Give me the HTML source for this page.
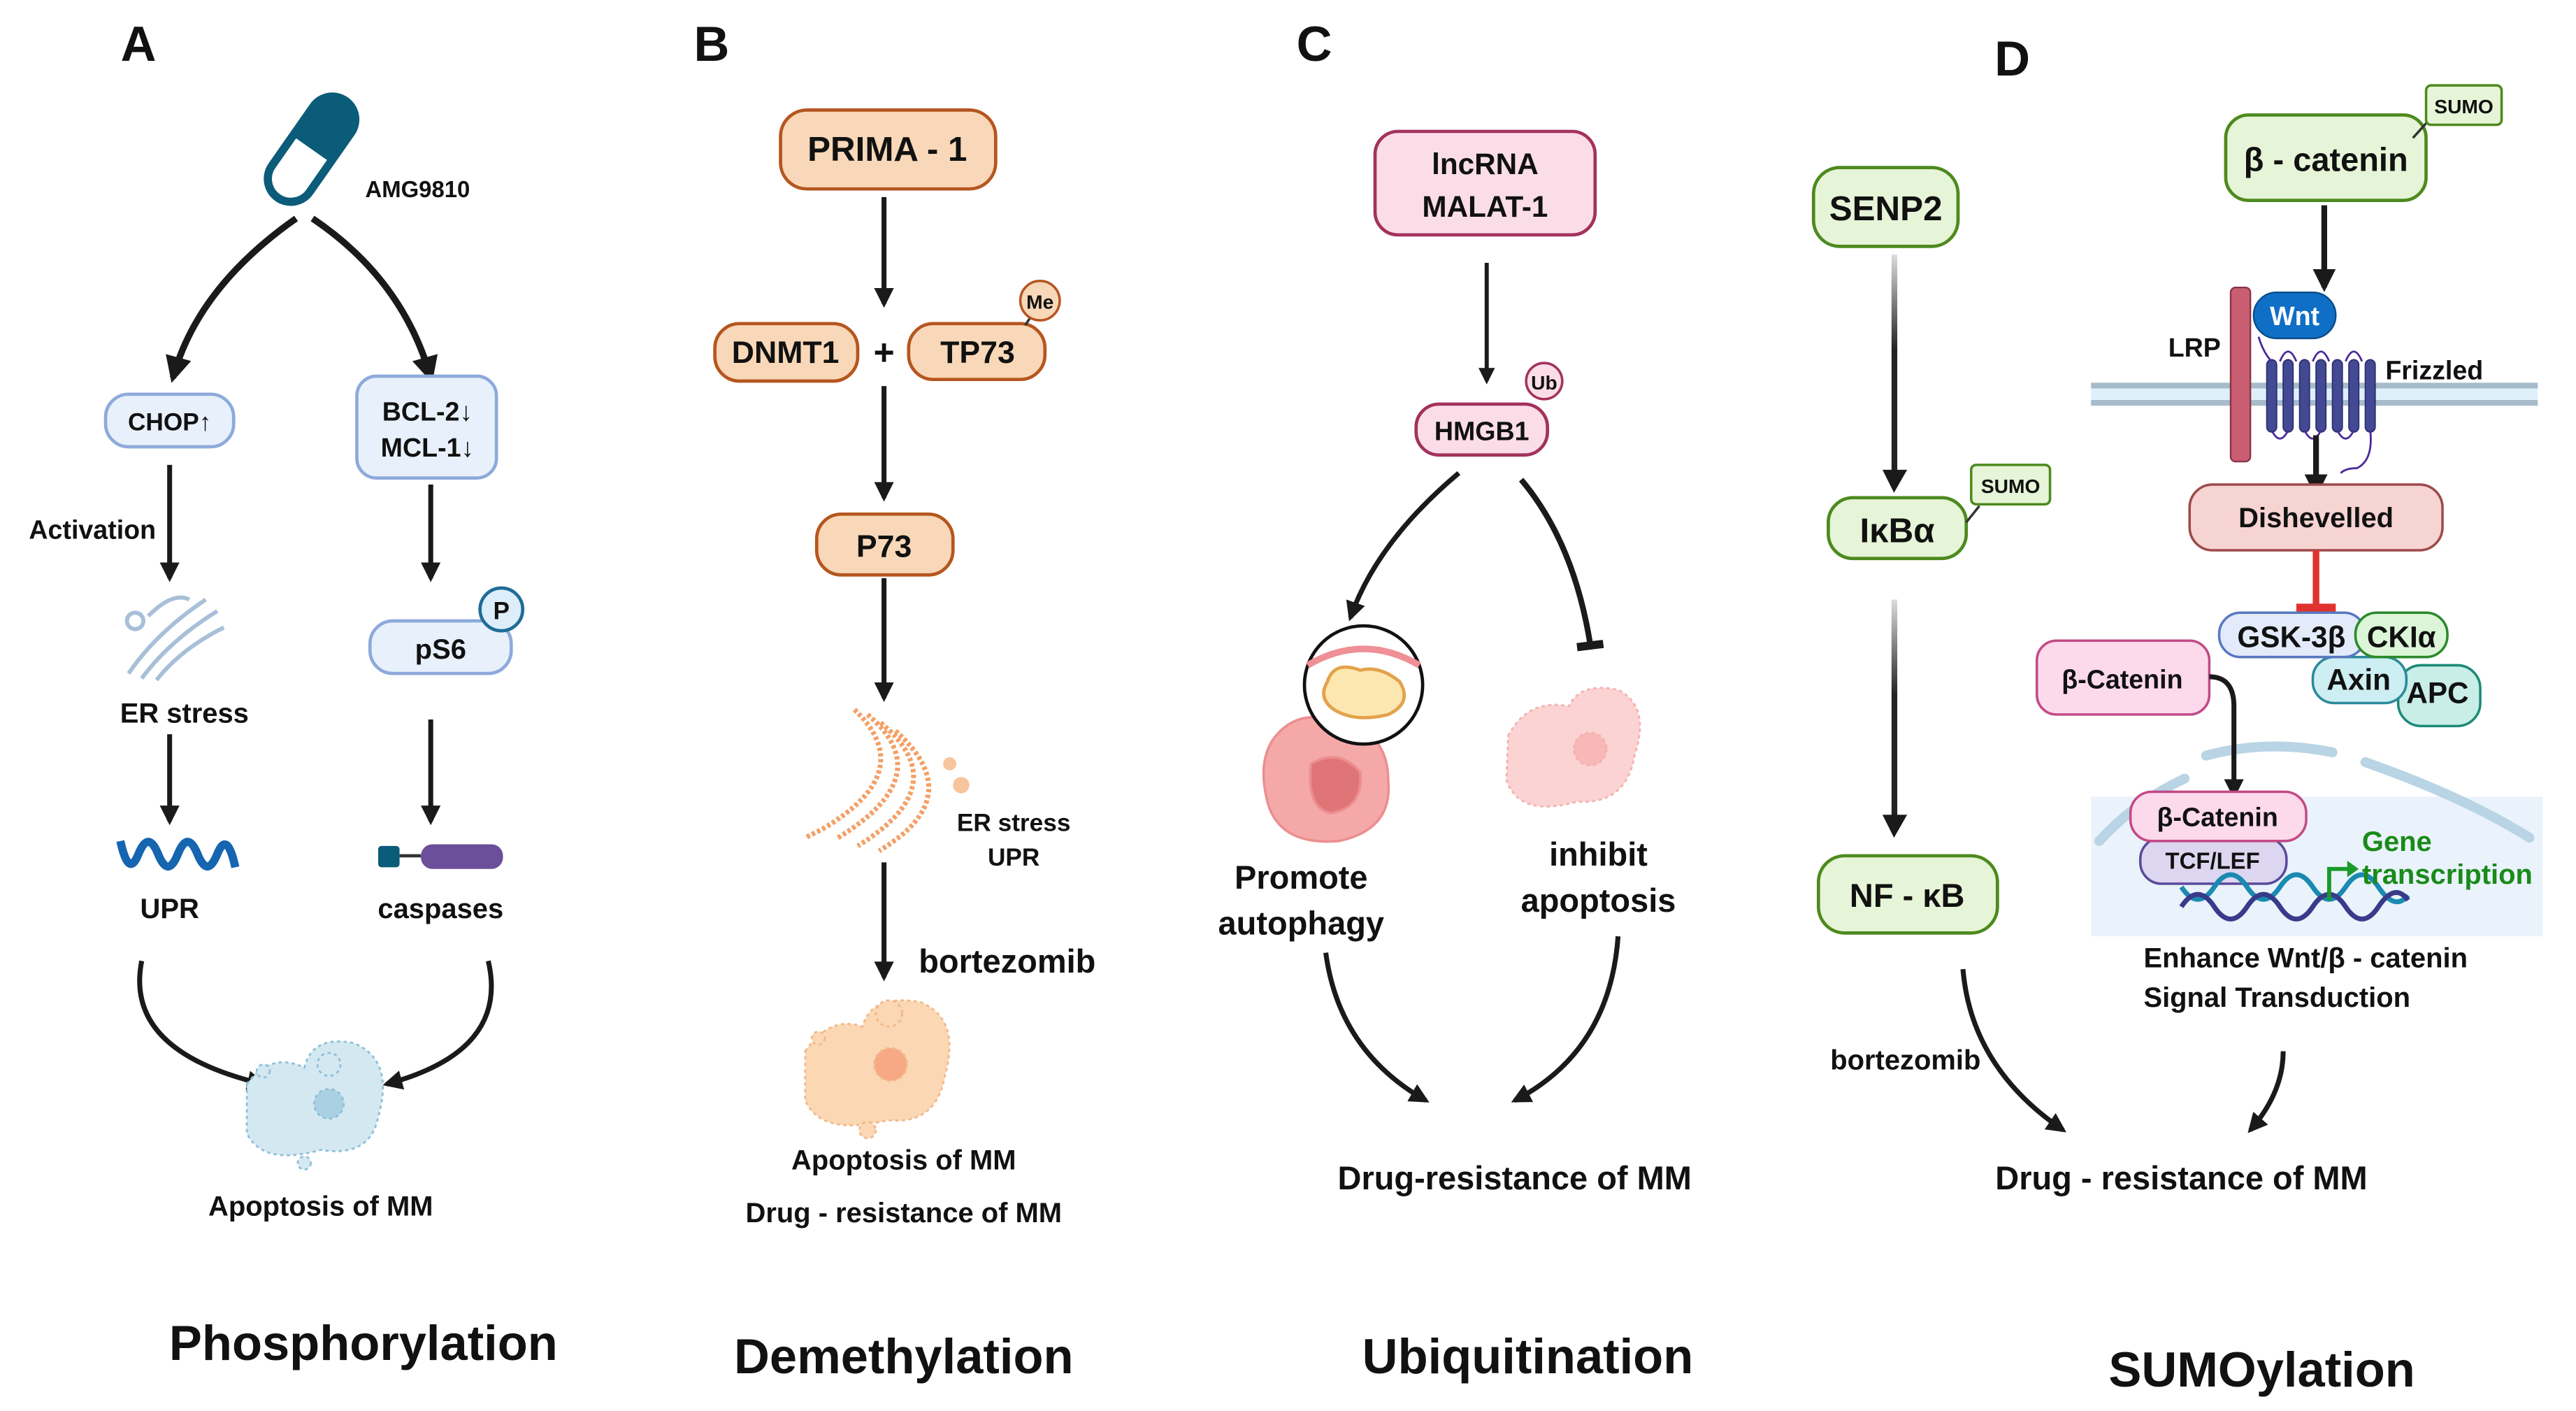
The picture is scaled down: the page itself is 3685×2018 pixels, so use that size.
<!DOCTYPE html>
<html><head><meta charset="utf-8"><style>
html,body{margin:0;padding:0;background:#fff;}
svg{display:block;}
text{font-family:"Liberation Sans",Arial,sans-serif;font-weight:bold;fill:#111;}
</style></head><body>
<svg width="3685" height="2018" viewBox="0 0 1568 859" xmlns="http://www.w3.org/2000/svg">
<defs>
<marker id="ah" viewBox="0 0 10 10" refX="8" refY="5" markerWidth="4" markerHeight="4" orient="auto"><path d="M0,0 L10,5 L0,10 z" fill="#1a1a1a"/></marker>
<linearGradient id="gd1" gradientUnits="userSpaceOnUse" x1="0" y1="155" x2="0" y2="300"><stop offset="0" stop-color="#ddd"/><stop offset="0.4" stop-color="#222"/></linearGradient>
<linearGradient id="gd2" gradientUnits="userSpaceOnUse" x1="0" y1="365" x2="0" y2="510"><stop offset="0" stop-color="#ddd"/><stop offset="0.4" stop-color="#222"/></linearGradient>
</defs>
<g text-anchor="middle">
<text x="84" y="37" font-size="30">A</text>
<text x="433" y="37" font-size="30">B</text>
<text x="800" y="37" font-size="30">C</text>
<text x="1225" y="46" font-size="30">D</text>

<!-- ===== A ===== -->
<g transform="rotate(35 190 90)">
<rect x="176" y="55" width="28" height="72" rx="14" fill="#fff" stroke="#0b5c78" stroke-width="5"/>
<path d="M176,91 L176,69 A14,14 0 0 1 204,69 L204,91 z" fill="#0b5c78"/>
</g>
<text x="254" y="120" font-size="14">AMG9810</text>
<path d="M180,133 Q120,175 105,230" fill="none" stroke="#1a1a1a" stroke-width="4" marker-end="url(#ah)"/>
<path d="M190,133 Q245,170 262,230" fill="none" stroke="#1a1a1a" stroke-width="4" marker-end="url(#ah)"/>
<rect x="64" y="240" width="78" height="32" rx="14" fill="#e8f1fb" stroke="#8eaadb" stroke-width="2"/>
<text x="103" y="262" font-size="15">CHOP↑</text>
<rect x="217" y="229" width="85" height="62" rx="12" fill="#e8f1fb" stroke="#8eaadb" stroke-width="2"/>
<text x="260" y="256" font-size="16">BCL-2↓</text>
<text x="260" y="278" font-size="16">MCL-1↓</text>
<line x1="103" y1="283" x2="103" y2="352" stroke="#1a1a1a" stroke-width="3" marker-end="url(#ah)"/>
<text x="56" y="328" font-size="16">Activation</text>
<g fill="none" stroke="#a8bfd8" stroke-width="2.5">
<path d="M78,410 Q95,385 125,365"/><path d="M86,413 Q103,390 132,372"/><path d="M95,414 Q110,395 136,382"/>
<circle cx="82" cy="378" r="5"/><path d="M90,375 Q105,360 115,365"/>
</g>
<text x="112" y="440" font-size="17">ER stress</text>
<line x1="103" y1="447" x2="103" y2="500" stroke="#1a1a1a" stroke-width="3" marker-end="url(#ah)"/>
<path d="M73,512 Q78,535 84,520 T96,520 T108,520 T120,520 T132,520 T143,528" fill="none" stroke="#1565b0" stroke-width="5"/>
<text x="103" y="559" font-size="17">UPR</text>
<line x1="262" y1="295" x2="262" y2="352" stroke="#1a1a1a" stroke-width="3" marker-end="url(#ah)"/>
<rect x="225" y="378" width="86" height="32" rx="14" fill="#e8f1fb" stroke="#8eaadb" stroke-width="2"/>
<text x="268" y="401" font-size="17">pS6</text>
<circle cx="305" cy="371" r="13" fill="#ddeefa" stroke="#1e6c98" stroke-width="2"/>
<text x="305" y="377" font-size="15">P</text>
<line x1="262" y1="438" x2="262" y2="500" stroke="#1a1a1a" stroke-width="3" marker-end="url(#ah)"/>
<rect x="230" y="515" width="13" height="13" rx="2" fill="#0b5c78"/>
<line x1="243" y1="521" x2="256" y2="521" stroke="#333" stroke-width="2"/>
<rect x="256" y="514" width="50" height="15" rx="7" fill="#6b4f9a"/>
<text x="268" y="559" font-size="17">caspases</text>
<path d="M86,585 Q75,640 160,660" fill="none" stroke="#1a1a1a" stroke-width="3" marker-end="url(#ah)"/>
<path d="M297,585 Q310,640 235,660" fill="none" stroke="#1a1a1a" stroke-width="3" marker-end="url(#ah)"/>
<g fill="#d4e8f2" stroke="#8fc0d8" stroke-width="1.2" stroke-dasharray="2,2">
<path d="M150,660 Q165,640 185,650 Q190,630 215,635 Q240,645 230,680 Q225,705 195,700 Q160,710 150,690 z"/>
<circle cx="200" cy="672" r="9" fill="#a9d0e3"/><circle cx="200" cy="648" r="7"/><circle cx="160" cy="652" r="4"/><circle cx="185" cy="708" r="4"/>
</g>
<text x="195" y="740" font-size="17">Apoptosis of MM</text>
<text x="221" y="828" font-size="30">Phosphorylation</text>

<!-- ===== B ===== -->
<rect x="475" y="67" width="131" height="48" rx="16" fill="#f8d8b8" stroke="#b5561f" stroke-width="2"/>
<text x="540" y="98" font-size="21">PRIMA - 1</text>
<line x1="538" y1="120" x2="538" y2="185" stroke="#1a1a1a" stroke-width="3" marker-end="url(#ah)"/>
<rect x="435" y="197" width="87" height="35" rx="15" fill="#f8d8b8" stroke="#b5561f" stroke-width="2"/>
<text x="478" y="221" font-size="19">DNMT1</text>
<text x="538" y="222" font-size="22" font-weight="normal">+</text>
<rect x="553" y="197" width="83" height="34" rx="15" fill="#f8d8b8" stroke="#b5561f" stroke-width="2"/>
<text x="595" y="221" font-size="19">TP73</text>
<line x1="624" y1="198" x2="628" y2="192" stroke="#333" stroke-width="1.5"/>
<circle cx="633" cy="183" r="12" fill="#f8d8b8" stroke="#b5561f" stroke-width="1.5"/>
<text x="633" y="188" font-size="12">Me</text>
<line x1="538" y1="235" x2="538" y2="303" stroke="#1a1a1a" stroke-width="3" marker-end="url(#ah)"/>
<rect x="497" y="313" width="83" height="37" rx="15" fill="#f8d8b8" stroke="#b5561f" stroke-width="2"/>
<text x="538" y="339" font-size="19">P73</text>
<line x1="538" y1="352" x2="538" y2="425" stroke="#1a1a1a" stroke-width="3" marker-end="url(#ah)"/>
<g fill="none" stroke="#f4a066" stroke-width="3" stroke-dasharray="2,1.5">
<path d="M520,432 Q560,470 500,505 L490,510"/><path d="M528,435 Q572,472 510,510"/><path d="M536,440 Q582,478 522,515"/><path d="M545,445 Q590,485 535,518"/>
</g>
<circle cx="578" cy="465" r="4" fill="#f8c49c"/><circle cx="585" cy="478" r="5" fill="#f8c49c"/>
<text x="617" y="506" font-size="15">ER stress</text>
<text x="617" y="527" font-size="15">UPR</text>
<line x1="538" y1="525" x2="538" y2="595" stroke="#1a1a1a" stroke-width="3" marker-end="url(#ah)"/>
<text x="613" y="592" font-size="20">bortezomib</text>
<g fill="#fbd7b4" stroke="#f1b98a" stroke-width="1.2" stroke-dasharray="2,2">
<path d="M490,640 Q505,618 525,625 Q530,605 560,610 Q585,620 575,655 Q570,685 540,682 Q500,692 490,670 z"/>
<circle cx="542" cy="648" r="10" fill="#f6a984"/><circle cx="541" cy="617" r="8"/><circle cx="498" cy="632" r="4"/><circle cx="528" cy="688" r="5"/>
</g>
<text x="550" y="712" font-size="17">Apoptosis of MM</text>
<text x="550" y="744" font-size="17">Drug - resistance of MM</text>
<text x="550" y="836" font-size="30">Demethylation</text>

<!-- ===== C ===== -->
<rect x="837" y="80" width="134" height="63" rx="14" fill="#fbdde8" stroke="#a2325c" stroke-width="2"/>
<text x="904" y="106" font-size="18">lncRNA</text>
<text x="904" y="132" font-size="18">MALAT-1</text>
<line x1="905" y1="160" x2="905" y2="232" stroke="#1a1a1a" stroke-width="2.5" marker-end="url(#ah)"/>
<rect x="862" y="246" width="80" height="31" rx="14" fill="#fbdde8" stroke="#a2325c" stroke-width="2"/>
<text x="902" y="268" font-size="16">HMGB1</text>
<circle cx="940" cy="232" r="11" fill="#fbdde8" stroke="#a2325c" stroke-width="1.5"/>
<text x="940" y="237" font-size="12">Ub</text>
<path d="M888,288 Q838,330 822,376" fill="none" stroke="#1a1a1a" stroke-width="3" marker-end="url(#ah)"/>
<path d="M926,292 Q958,330 968,392" fill="none" stroke="#1a1a1a" stroke-width="3.5"/>
<line x1="960" y1="394" x2="976" y2="392" stroke="#1a1a1a" stroke-width="5"/>
<g fill="#f4a9a8" stroke="#ec8e90" stroke-width="1.5">
<path d="M775,450 Q790,430 815,440 Q845,445 845,475 Q848,505 815,512 Q780,515 772,490 Q765,465 775,450 z"/>
<path d="M798,465 Q815,455 828,470 Q830,492 810,495 Q795,492 798,465 z" fill="#e07577"/>
</g>
<circle cx="830" cy="417" r="36" fill="#fff" stroke="#111" stroke-width="2"/>
<path d="M796,405 Q830,385 864,405" fill="none" stroke="#ef8f96" stroke-width="4"/>
<path d="M808,415 Q812,402 828,408 Q840,405 852,415 Q860,428 845,435 Q825,440 812,432 Q802,425 808,415 z" fill="#fde7b0" stroke="#e3a24a" stroke-width="2"/>
<g fill="#fbd3d2" stroke="#f4b1b0" stroke-width="1.2" stroke-dasharray="2,2">
<path d="M918,448 Q930,425 955,430 Q962,415 985,420 Q1005,430 995,460 Q990,490 960,488 Q925,498 917,475 z"/>
<circle cx="968" cy="456" r="10" fill="#f7b8b6"/>
</g>
<text x="792" y="541" font-size="20">Promote</text>
<text x="792" y="569" font-size="20">autophagy</text>
<text x="973" y="527" font-size="20">inhibit</text>
<text x="973" y="555" font-size="20">apoptosis</text>
<path d="M807,580 Q815,640 868,670" fill="none" stroke="#1a1a1a" stroke-width="3" marker-end="url(#ah)"/>
<path d="M985,570 Q980,640 922,670" fill="none" stroke="#1a1a1a" stroke-width="3" marker-end="url(#ah)"/>
<text x="922" y="724" font-size="20">Drug-resistance of MM</text>
<text x="930" y="836" font-size="30">Ubiquitination</text>

<!-- ===== D ===== -->
<rect x="1104" y="102" width="88" height="48" rx="16" fill="#e6f4d7" stroke="#4d8a1e" stroke-width="2"/>
<text x="1148" y="134" font-size="21">SENP2</text>
<rect x="1151.5" y="155" width="3.5" height="132" fill="url(#gd1)"/>
<path d="M1146,286 L1161,286 L1153,300 z" fill="#1a1a1a"/>
<rect x="1113" y="303" width="84" height="37" rx="15" fill="#e6f4d7" stroke="#4d8a1e" stroke-width="2"/>
<text x="1155" y="330" font-size="21">IκBα</text>
<line x1="1197" y1="318" x2="1205" y2="308" stroke="#333" stroke-width="1.5"/>
<rect x="1200" y="283" width="48" height="24" rx="3" fill="#e6f4d7" stroke="#4d8a1e" stroke-width="1.5"/>
<text x="1224" y="300" font-size="12">SUMO</text>
<rect x="1151.5" y="365" width="3.5" height="132" fill="url(#gd2)"/>
<path d="M1146,496 L1161,496 L1153,510 z" fill="#1a1a1a"/>
<rect x="1107" y="521" width="109" height="47" rx="16" fill="#e6f4d7" stroke="#4d8a1e" stroke-width="2"/>
<text x="1161" y="552" font-size="20">NF - κB</text>
<text x="1160" y="651" font-size="17">bortezomib</text>
<path d="M1195,590 Q1200,650 1256,688" fill="none" stroke="#1a1a1a" stroke-width="3" marker-end="url(#ah)"/>
<path d="M1390,640 Q1390,665 1370,688" fill="none" stroke="#1a1a1a" stroke-width="3" marker-end="url(#ah)"/>
<text x="1328" y="724" font-size="20">Drug - resistance of MM</text>
<text x="1377" y="844" font-size="30">SUMOylation</text>

<rect x="1355" y="70" width="122" height="52" rx="14" fill="#e6f4d7" stroke="#4d8a1e" stroke-width="2"/>
<text x="1416" y="104" font-size="20">β - catenin</text>
<line x1="1469" y1="84" x2="1478" y2="74" stroke="#333" stroke-width="1.5"/>
<rect x="1477" y="52" width="46" height="24" rx="3" fill="#e6f4d7" stroke="#4d8a1e" stroke-width="1.5"/>
<text x="1500" y="69" font-size="12">SUMO</text>
<line x1="1415" y1="125" x2="1415" y2="175" stroke="#1a1a1a" stroke-width="3.5" marker-end="url(#ah)"/>
<rect x="1273" y="233" width="272" height="14" fill="#dff0fb"/>
<rect x="1273" y="233" width="272" height="3.5" fill="#a7bccb"/>
<rect x="1273" y="243.5" width="272" height="3.5" fill="#a7bccb"/>
<rect x="1358" y="175" width="12" height="106" rx="3" fill="#c95d72" stroke="#8a3344" stroke-width="1"/>
<g fill="#434a93" stroke="#2d3170" stroke-width="0.8">
<rect x="1380" y="219" width="6" height="44" rx="3"/><rect x="1390" y="219" width="6" height="44" rx="3"/><rect x="1400" y="219" width="6" height="44" rx="3"/><rect x="1410" y="219" width="6" height="44" rx="3"/><rect x="1420" y="219" width="6" height="44" rx="3"/><rect x="1430" y="219" width="6" height="44" rx="3"/><rect x="1440" y="219" width="6" height="44" rx="3"/>
</g>
<path d="M1375,205 Q1378,215 1383,220 M1388,220 Q1393,208 1398,220 M1408,220 Q1413,208 1418,220 M1428,220 Q1433,208 1438,220 M1383,262 Q1388,272 1393,262 M1403,262 Q1408,272 1413,262 M1423,262 Q1428,272 1433,262 M1443,262 Q1445,280 1435,285 Q1428,285 1425,288" fill="none" stroke="#4a2a9a" stroke-width="1.2"/>
<rect x="1372" y="178" width="50" height="28" rx="14" fill="#0f6fc6" stroke="#0a4c8a" stroke-width="1"/>
<text x="1397" y="198" font-size="16" style="fill:#fff">Wnt</text>
<text x="1336" y="217" font-size="16" font-weight="normal">LRP</text>
<text x="1482" y="231" font-size="16">Frizzled</text>
<line x1="1410" y1="265" x2="1410" y2="300" stroke="#1a1a1a" stroke-width="3.5" marker-end="url(#ah)"/>
<rect x="1333" y="295" width="154" height="40" rx="14" fill="#f6d4d2" stroke="#9e4a4a" stroke-width="1.5"/>
<text x="1410" y="321" font-size="17">Dishevelled</text>
<line x1="1410" y1="335" x2="1410" y2="370" stroke="#e0322e" stroke-width="4"/>
<line x1="1398" y1="370" x2="1422" y2="370" stroke="#e0322e" stroke-width="5"/>
<rect x="1460" y="405" width="50" height="37" rx="14" fill="#c9ede7" stroke="#1c8a78" stroke-width="1.5"/>
<rect x="1408" y="400" width="57" height="28" rx="13" fill="#cdeef3" stroke="#2a8a9a" stroke-width="1.5"/>
<rect x="1351" y="373" width="89" height="27" rx="13" fill="#e3ebfb" stroke="#5a78c0" stroke-width="1.5"/>
<rect x="1434" y="373" width="56" height="27" rx="13" fill="#dcf5d8" stroke="#2a8a2a" stroke-width="1.5"/>
<text x="1395" y="394" font-size="18">GSK-3β</text>
<text x="1462" y="394" font-size="18">CKIα</text>
<text x="1436" y="420" font-size="18">Axin</text>
<text x="1484" y="428" font-size="18">APC</text>
<rect x="1240" y="390" width="105" height="45" rx="12" fill="#fdd9ec" stroke="#c24a86" stroke-width="1.5"/>
<text x="1292" y="419" font-size="16">β-Catenin</text>
<path d="M1273,485 L1548,485 L1548,570 L1273,570 z" fill="#eaf3fb"/>
<g fill="none" stroke="#b9d4e4" stroke-width="6" stroke-linecap="round">
<path d="M1278,512 Q1300,488 1330,474"/><path d="M1343,460 Q1380,450 1420,458"/><path d="M1440,464 Q1500,485 1540,510"/>
</g>
<path d="M1345,412 Q1360,412 1360,430 L1360,484" fill="none" stroke="#1a1a1a" stroke-width="3" marker-end="url(#ah)"/>
<rect x="1303" y="510" width="89" height="28" rx="13" fill="#ddd6f0" stroke="#5a4a9a" stroke-width="1.5"/>
<text x="1347" y="529" font-size="14">TCF/LEF</text>
<rect x="1297" y="482" width="107" height="30" rx="13" fill="#fdd9ec" stroke="#c24a86" stroke-width="1.5"/>
<text x="1350" y="503" font-size="16">β-Catenin</text>
<path d="M1328,540 Q1338,555 1348,540 T1368,540 T1388,540 T1408,540 T1428,540 T1448,540 T1466,545" fill="none" stroke="#1a8ab0" stroke-width="3"/>
<path d="M1328,552 Q1338,537 1348,552 T1368,552 T1388,552 T1408,552 T1428,552 T1448,552 T1466,548" fill="none" stroke="#3a3a8a" stroke-width="3"/>
<path d="M1418,548 L1418,529 L1430,529" fill="none" stroke="#1a9a2a" stroke-width="2.5"/>
<path d="M1429,524 L1436,529 L1429,534 z" fill="#1a9a2a"/>
<text x="1438" y="518" font-size="17" text-anchor="start" style="fill:#1a8a1a">Gene</text>
<text x="1438" y="538" font-size="17" text-anchor="start" style="fill:#1a8a1a">transcription</text>
<text x="1305" y="589" font-size="17" text-anchor="start">Enhance Wnt/β - catenin</text>
<text x="1305" y="613" font-size="17" text-anchor="start">Signal Transduction</text>
</g>
</svg>
</body></html>
